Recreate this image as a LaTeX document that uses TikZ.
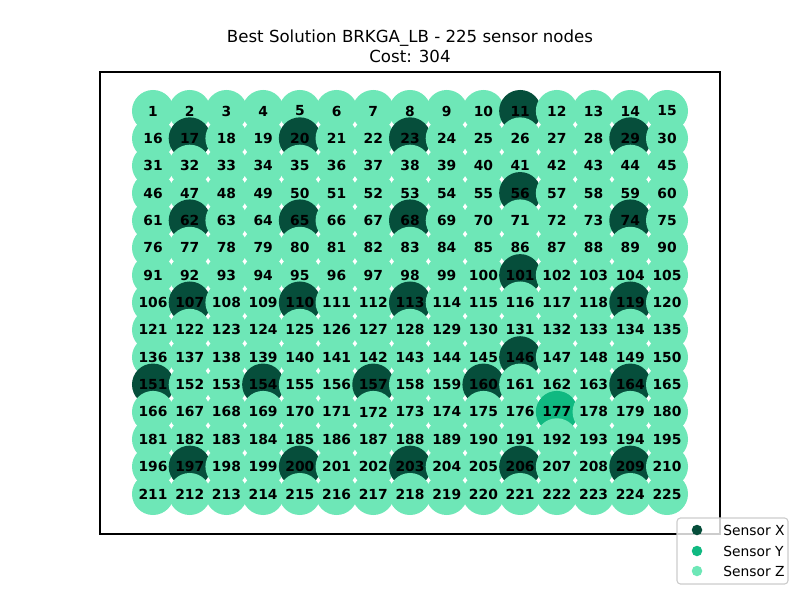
\documentclass[tikz,border=0pt]{standalone}
\usepackage{fontspec}
\setmainfont{DejaVu Sans}
\definecolor{cx}{HTML}{064E3B}
\definecolor{cy}{HTML}{10B981}
\definecolor{cz}{HTML}{6EE7B7}
\definecolor{legedge}{HTML}{CCCCCC}
\tikzset{
 sensor/.style={circle, inner sep=0pt, minimum size=0.42in, draw=none},
 lab/.style={inner sep=0pt, font=\fontsize{10}{12}\selectfont\bfseries},
 titletext/.style={anchor=base, inner sep=0pt, font=\fontsize{12}{14}\selectfont},
 legmark/.style={circle, inner sep=0pt, minimum size=0.105in, draw=none},
 legtext/.style={anchor=base west, inner sep=0pt, font=\fontsize{10}{12}\selectfont},
}
\begin{document}
\begin{tikzpicture}[x=0.01in,y=-0.01in]
\useasboundingbox (0,0) rectangle (800,600);
\node[titletext] (t1) at (410,43) {Best Solution BRKGA\_LB - 225 sensor nodes};
\node[titletext] (t2) at (410,63) {Cost: 304};
\draw[line width=0.8pt] (100,72) rectangle (720,534);
\foreach \k in {11,17,20,23,29,56,62,65,68,74,101,107,110,113,119,146,151,154,157,160,164,197,200,203,206,209}{\expandafter\gdef\csname kind\k\endcsname{cx}}
\expandafter\gdef\csname kind177\endcsname{cy}
\foreach \i in {1,...,225}{
  \pgfmathtruncatemacro\rr{(\i-1)/15}
  \pgfmathtruncatemacro\cc{\i-1-15*\rr}
  \ifcsname kind\i\endcsname \edef\kcol{\csname kind\i\endcsname}\else \def\kcol{cz}\fi
  \node[sensor, fill=\kcol] (c\i) at ({153+36.714*\cc},{111+27.357*\rr}) {};
}
\foreach \i in {1,...,225}{
  \node[lab] (l\i) at (c\i) {\i};
}
\draw[legedge, line width=0.8pt, fill=white, fill opacity=0.8, rounded corners=2.5pt] (677,518) rectangle (788,584);
\node[legmark, fill=cx] (mx) at (697,530) {};
\node[legmark, fill=cy] (my) at (697,551) {};
\node[legmark, fill=cz] (mz) at (697,571) {};
\node[legtext] (tx) at (723,535) {Sensor X};
\node[legtext] (ty) at (723,556) {Sensor Y};
\node[legtext] (tz) at (723,576) {Sensor Z};
\end{tikzpicture}
\end{document}
